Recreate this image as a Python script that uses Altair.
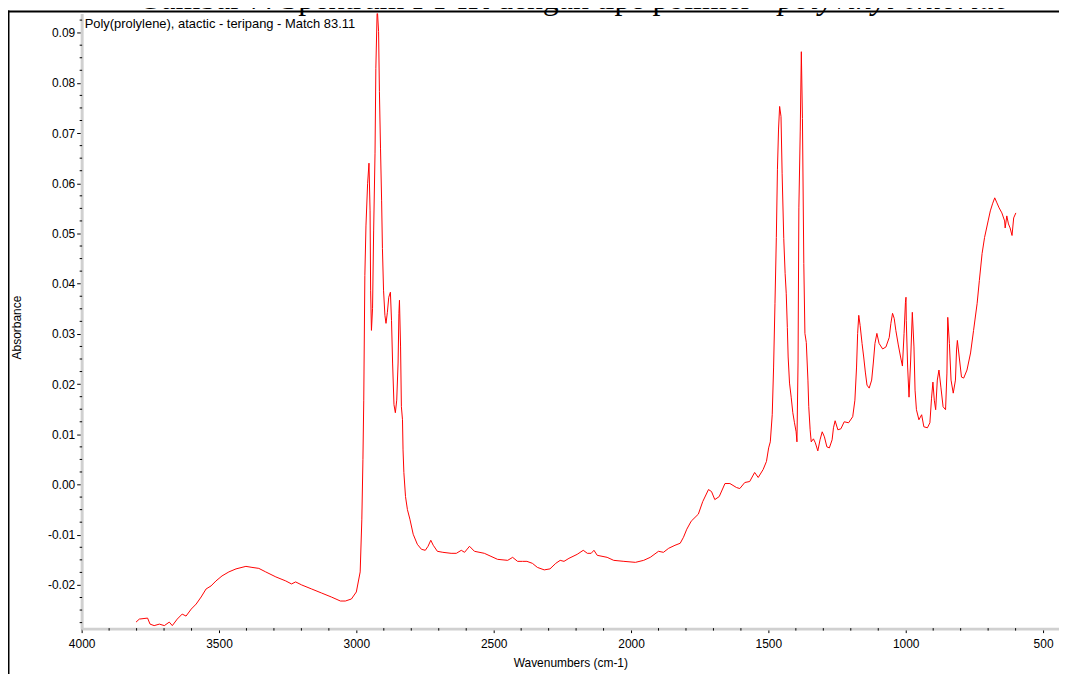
import altair as alt
import pandas as pd

wavenumber = [3802, 3790, 3760, 3751, 3736, 3717, 3699, 3681, 3670, 3652, 3634, 3620, 3601, 3583, 3565, 3547,
              3529, 3511, 3489, 3464, 3438, 3402, 3380, 3355, 3330, 3293, 3257, 3236, 3221, 3199, 3163, 3127,
              3091, 3058, 3040, 3018, 3000, 2986, 2980, 2976, 2973, 2969, 2965, 2959, 2954, 2950, 2948, 2945,
              2941, 2937, 2932, 2929, 2924, 2919, 2916, 2912, 2908, 2905, 2901, 2896, 2892, 2887, 2882, 2876,
              2872, 2868, 2863, 2858, 2853, 2848, 2845, 2843, 2839, 2836, 2832, 2830, 2827, 2821, 2814, 2805,
              2793, 2778, 2763, 2749, 2739, 2729, 2720, 2705, 2685, 2655, 2636, 2618, 2606, 2588, 2570, 2534,
              2510, 2486, 2449, 2431, 2413, 2395, 2379, 2359, 2341, 2316, 2295, 2274, 2258, 2244, 2226, 2196,
              2174, 2159, 2145, 2135, 2123, 2087, 2063, 2026, 1984, 1954, 1930, 1900, 1882, 1863, 1840, 1821,
              1809, 1797, 1781, 1755, 1739, 1718, 1707, 1695, 1679, 1658, 1640, 1616, 1604, 1586, 1568, 1550,
              1537, 1519, 1507, 1499, 1493, 1486, 1481, 1476, 1471, 1467, 1463, 1459, 1454, 1450, 1444, 1439,
              1435, 1431, 1428, 1423, 1417, 1411, 1405, 1399, 1396, 1392, 1389, 1384, 1380, 1376, 1371, 1367,
              1362, 1356, 1353, 1348, 1344, 1336, 1329, 1320, 1312, 1304, 1296, 1287, 1278, 1268, 1263, 1257,
              1247, 1236, 1224, 1208, 1193, 1185, 1179, 1175, 1171, 1166, 1159, 1153, 1147, 1141, 1133, 1124,
              1118, 1112, 1105, 1097, 1084, 1072, 1060, 1054, 1048, 1042, 1036, 1027, 1018, 1012, 1006, 1001,
              999, 998, 993, 988, 982, 976, 970, 966, 961, 952, 942, 934, 921, 912, 906, 901,
              896, 891, 885, 879, 872, 864, 855, 850, 847, 841, 835, 827, 819, 815, 812, 804,
              797, 789, 777, 764, 753, 740, 732, 722, 713, 700, 692, 684, 676, 668, 660, 650,
              640, 638, 632, 626, 620, 613, 607, 599]

absorbance = [-0.0274, -0.0268, -0.0266, -0.0278, -0.0281, -0.0278, -0.0281, -0.0274, -0.0281, -0.0268, -0.0258,
              -0.0262, -0.0248, -0.0238, -0.0224, -0.0208, -0.0202, -0.0192, -0.0182, -0.0174, -0.0168, -0.0163,
              -0.0165, -0.0167, -0.0174, -0.0184, -0.0192, -0.0198, -0.0194, -0.0200, -0.0208, -0.0216, -0.0224,
              -0.0232, -0.0232, -0.0228, -0.0214, -0.0174, -0.0069, 0.0050, 0.0168, 0.0416, 0.0515, 0.0599,
              0.0640, 0.0545, 0.0387, 0.0307, 0.0351, 0.0505, 0.0660, 0.0829, 0.0950, 0.0902, 0.0783, 0.0670,
              0.0565, 0.0470, 0.0387, 0.0337, 0.0321, 0.0343, 0.0373, 0.0383, 0.0327, 0.0242, 0.0159, 0.0143,
              0.0168, 0.0242, 0.0341, 0.0367, 0.0274, 0.0155, 0.0129, 0.0069, 0.0024, -0.0024, -0.0050, -0.0069,
              -0.0099, -0.0119, -0.0129, -0.0131, -0.0123, -0.0111, -0.0121, -0.0133, -0.0135, -0.0137, -0.0137,
              -0.0131, -0.0135, -0.0123, -0.0133, -0.0137, -0.0143, -0.0149, -0.0151, -0.0145, -0.0153, -0.0153,
              -0.0153, -0.0157, -0.0165, -0.0170, -0.0168, -0.0157, -0.0151, -0.0153, -0.0147, -0.0139, -0.0131,
              -0.0137, -0.0137, -0.0131, -0.0141, -0.0145, -0.0151, -0.0153, -0.0155, -0.0151, -0.0145, -0.0133,
              -0.0135, -0.0127, -0.0121, -0.0117, -0.0105, -0.0089, -0.0073, -0.0059, -0.0034, -0.0010, -0.0014,
              -0.0030, -0.0024, 0.0002, 0.0002, -0.0006, -0.0008, 0.0004, 0.0006, 0.0024, 0.0014, 0.0030, 0.0046,
              0.0073, 0.0085, 0.0139, 0.0234, 0.0361, 0.0492, 0.0628, 0.0708, 0.0753, 0.0733, 0.0620, 0.0490,
              0.0420, 0.0381, 0.0313, 0.0254, 0.0202, 0.0174, 0.0143, 0.0123, 0.0105, 0.0085, 0.0242, 0.0551,
              0.0704, 0.0862, 0.0729, 0.0440, 0.0301, 0.0283, 0.0208, 0.0155, 0.0109, 0.0085, 0.0091, 0.0083,
              0.0067, 0.0089, 0.0105, 0.0095, 0.0075, 0.0073, 0.0089, 0.0113, 0.0127, 0.0109, 0.0111, 0.0125,
              0.0123, 0.0135, 0.0168, 0.0234, 0.0301, 0.0337, 0.0317, 0.0281, 0.0254, 0.0224, 0.0198, 0.0192,
              0.0208, 0.0242, 0.0281, 0.0301, 0.0281, 0.0270, 0.0274, 0.0293, 0.0321, 0.0341, 0.0331, 0.0307,
              0.0278, 0.0252, 0.0236, 0.0301, 0.0363, 0.0373, 0.0327, 0.0234, 0.0174, 0.0248, 0.0343, 0.0274,
              0.0188, 0.0149, 0.0129, 0.0139, 0.0115, 0.0113, 0.0123, 0.0172, 0.0204, 0.0168, 0.0149, 0.0208,
              0.0228, 0.0194, 0.0155, 0.0149, 0.0222, 0.0333, 0.0281, 0.0208, 0.0182, 0.0208, 0.0268, 0.0287,
              0.0248, 0.0214, 0.0212, 0.0228, 0.0262, 0.0307, 0.0361, 0.0406, 0.0460, 0.0492, 0.0525, 0.0545,
              0.0559, 0.0571, 0.0561, 0.0551, 0.0541, 0.0525, 0.0511, 0.0535, 0.0519, 0.0511, 0.0496, 0.0531,
              0.0541]

x_major = [4000, 3500, 3000, 2500, 2000, 1500, 1000, 500]
x_minor = [v for v in range(3900, 499, -100) if v % 500 != 0]
y_major = [-0.02, -0.01, 0.0, 0.01, 0.02, 0.03, 0.04, 0.05, 0.06, 0.07, 0.08, 0.09]
y_minor = [round(-0.0275 + 0.0025 * k, 4) for k in range(49)]
y_minor = [v for v in y_minor if abs(round(v * 100) - v * 100) > 1e-6]

annotation = "Poly(prolylene), atactic - teripang - Match 83.11"
caption_plain = "Gambar 7. Spektrum FT-IR dengan tipe polimer"
caption_italic = "polyvinyl chloride"

W, H = 982, 618
FONT = "Liberation Sans"

df = pd.DataFrame({"wn": wavenumber, "abs": absorbance, "i": list(range(len(wavenumber)))})
one = pd.DataFrame({"k": [0]})

x_scale = alt.Scale(domain=[442, 4000], reverse=True, nice=False, zero=False)
y_scale = alt.Scale(domain=[-0.0287, 0.0938], nice=False, zero=False)

x_axis = alt.Axis(values=x_major, format="d", title="Wavenumbers (cm-1)", tickSize=4,
                  labelPadding=6, titlePadding=8, labelFlush=False)
y_axis = alt.Axis(values=y_major, title="Absorbance", tickSize=5, labelPadding=2,
                  labelExpr="replace(format(datum.value, '.2f'), '\u2212', '-')",
                  labelFlush=False, titleX=-58, titleY=315)

line = alt.Chart(df).mark_line(color="#ff0000", strokeWidth=1, clip=True).encode(
    x=alt.X("wn:Q", scale=x_scale, axis=x_axis),
    y=alt.Y("abs:Q", scale=y_scale, axis=y_axis),
    order="i:Q",
)

xminor = alt.Chart(pd.DataFrame({"wn": x_minor})).mark_rule(color="black", strokeWidth=1).encode(
    x=alt.X("wn:Q", scale=x_scale, axis=x_axis),
    y=alt.value(H - 0.5), y2=alt.value(H + 2),
)
yminor = alt.Chart(pd.DataFrame({"abs": y_minor})).mark_rule(color="black", strokeWidth=1).encode(
    y=alt.Y("abs:Q", scale=y_scale, axis=y_axis),
    x=alt.value(-2), x2=alt.value(0.5),
)

frame_left = alt.Chart(one).mark_rule(color="black", strokeWidth=2).encode(
    x=alt.value(-73.5), y=alt.value(-3), y2=alt.value(H + 60))
frame_top = alt.Chart(one).mark_rule(color="black", strokeWidth=2).encode(
    x=alt.value(-74), x2=alt.value(W + 20), y=alt.value(-2))

note = alt.Chart(one).mark_text(align="left", baseline="alphabetic", font=FONT, fontSize=13,
                                color="black").encode(
    x=alt.value(3), y=alt.value(15), text=alt.value(annotation))

cap1 = alt.Chart(one).mark_text(align="right", baseline="alphabetic", font="Liberation Serif",
                                fontSize=32, color="black").encode(
    x=alt.value(673), y=alt.value(-5), text=alt.value(caption_plain))
cap2 = alt.Chart(one).mark_text(align="left", baseline="alphabetic", font="Liberation Serif",
                                fontSize=32, fontStyle="italic", color="black").encode(
    x=alt.value(700), y=alt.value(-5), text=alt.value(caption_italic))

chart = alt.layer(line, xminor, yminor, frame_left, frame_top, note, cap1, cap2).properties(
    width=W, height=H,
    padding={"left": 74, "top": 4, "right": 0, "bottom": 44},
    autosize=alt.AutoSizeParams(type="none"),
).configure_view(stroke=None).configure_axis(
    grid=False,
    domainColor="#d0d0d0", domainWidth=3,
    tickColor="black", tickWidth=1,
    labelFont=FONT, labelFontSize=12, labelColor="black",
    titleFont=FONT, titleFontSize=12, titleFontWeight="normal", titleColor="black",
)

chart.save("out.html", embed_options={"renderer": "svg", "actions": False})
